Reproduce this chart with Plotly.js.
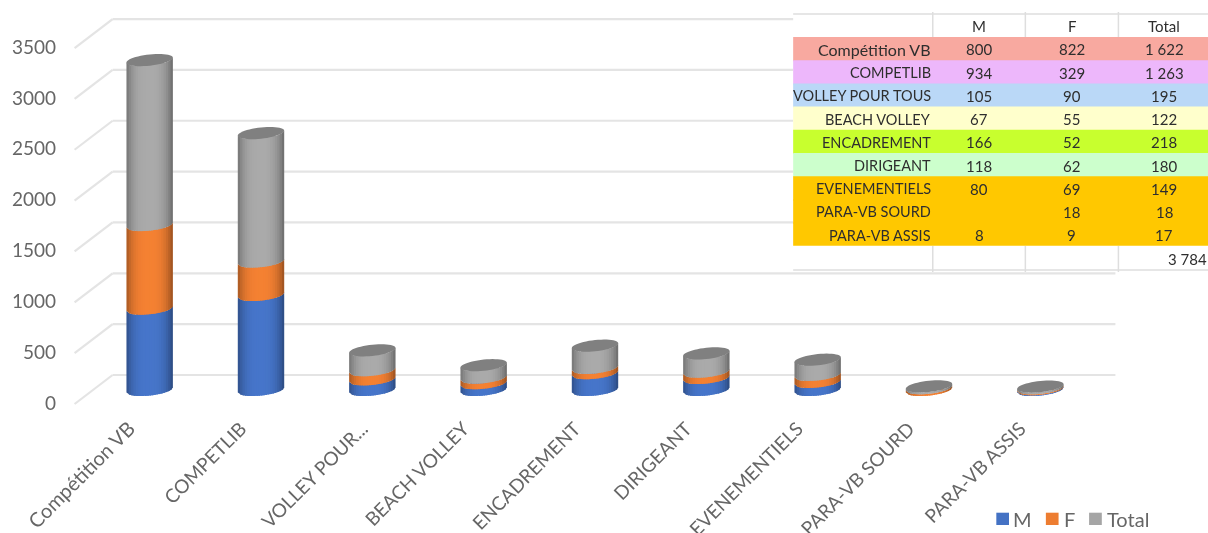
<!DOCTYPE html>
<html><head><meta charset="utf-8">
<script src="https://cdn.plot.ly/plotly-3.0.1.min.js"></script>
<style>html,body{margin:0;padding:0;background:#fff;overflow:hidden}#c{width:1208px;height:533px;filter:blur(0.55px)}</style>
</head><body><div id="c"></div>
<script>
// ---- data ----
const categories = ["Compétition VB","COMPETLIB","VOLLEY POUR TOUS","BEACH VOLLEY","ENCADREMENT","DIRIGEANT","EVENEMENTIELS","PARA-VB SOURD","PARA-VB ASSIS"];
const axisLabels = ["Compétition VB","COMPETLIB","VOLLEY POUR...","BEACH VOLLEY","ENCADREMENT","DIRIGEANT","EVENEMENTIELS","PARA-VB SOURD","PARA-VB ASSIS"];
const valuesM = [800,934,105,67,166,118,80,null,8];
const valuesF = [822,329,90,55,52,62,69,18,9];
const valuesTotal = [1622,1263,195,122,218,180,149,18,17];
const yTicks = [0,500,1000,1500,2000,2500,3000,3500];
const seriesNames = ["M","F","Total"];
const seriesColors = ["#4472c4","#ed7d31","#a5a5a5"];
const rowColors = ["#f8a9a0","#edb7fb","#bad8f7","#ffffcc","#c8ff2e","#ccffcc","#ffc800","#ffc800","#ffc800"];

// ---- geometry ----
const L=94.4,R=1095.6,T=10,B=405, W=R-L,H=B-T;
const K=0.1017;              // pixels per unit
const STEP=111.25;           // pixels per category
const yRange=[-15/K,(390-T)/K];
const xp=x=>(x-L)/W, yp=y=>(B-y)/H;
const A=23.2,BB=5.6,S=2.4/23.2; // cylinder half-width, ellipse half-height, tilt
const sFont="Lato, 'Open Sans', sans-serif";

function shade(hex,m){
  const n=parseInt(hex.slice(1),16);
  const c=[n>>16,(n>>8)&255,n&255].map(v=>Math.max(0,Math.min(255,Math.round(v*m))));
  return `rgb(${c[0]},${c[1]},${c[2]})`;
}
const low=dx=>(-S*dx+BB*Math.sqrt(Math.max(0,1-(dx/A)*(dx/A))))/K;
const up=dx=>(-S*dx-BB*Math.sqrt(Math.max(0,1-(dx/A)*(dx/A))))/K;
const shapes=[];

// back wall + side wall
yTicks.forEach(v=>{
  const wall=v+15/K, front=v-14/K;
  const line={color:"#e4e4e4",width:2.2};
  shapes.push({type:"line",layer:"below",xref:"paper",yref:"y",x0:xp(113),x1:xp(1115),y0:wall,y1:wall,line});
  shapes.push({type:"line",layer:"below",xref:"paper",yref:"y",x0:xp(75),x1:xp(113),y0:front,y1:wall,line});
});

// cylinders
const N=20;
categories.forEach((c,i)=>{
  let base=0;
  [valuesM,valuesF,valuesTotal].forEach((arr,s)=>{
    const v=arr[i]; if(!v) return;
    const top=base+v;
    for(let j=0;j<N;j++){
      const d0=-A+2*A*j/N, d1=-A+2*A*(j+1)/N;
      const mid=(d0+d1)/2/A, tt=Math.abs(mid+0.03);
      const col=shade(seriesColors[s],1.03-0.36*tt*tt*tt);
      const e=Math.min(A,d1+1.5);
      const x0=i+d0/STEP, x1=i+e/STEP;
      const path=`M${x0.toFixed(4)},${(base-low(d0)).toFixed(2)}L${x1.toFixed(4)},${(base-low(e)).toFixed(2)}L${x1.toFixed(4)},${(top-low(e)).toFixed(2)}L${x0.toFixed(4)},${(top-low(d0)).toFixed(2)}Z`;
      shapes.push({type:"path",layer:"above",xref:"x",yref:"y",path,fillcolor:col,line:{width:0}});
    }
    base=top;
  });
  // top cap
  let p="";
  for(let k=0;k<=24;k++){const d=-A*Math.cos(Math.PI*k/24);p+=(k?"L":"M")+(i+d/STEP).toFixed(4)+","+(base-up(d)).toFixed(2);}
  for(let k=23;k>0;k--){const d=-A*Math.cos(Math.PI*k/24);p+="L"+(i+d/STEP).toFixed(4)+","+(base-low(d)).toFixed(2);}
  shapes.push({type:"path",layer:"above",xref:"x",yref:"y",path:p+"Z",fillcolor:"#808080",line:{width:0}});
});

// ---- table ----
const rowH=23.2, rowTop=37;
const annotations=[];
const tcol="#2e2e2e";
const grid={color:"#dedede",width:1.5};
const rect=(x0,y0,x1,y1,color)=>shapes.push({type:"rect",layer:"above",xref:"paper",yref:"paper",x0:xp(x0),x1:xp(x1),y0:yp(y0),y1:yp(y1),fillcolor:color,line:{width:0}});
const hl=(x0,y0,x1,y1)=>shapes.push({type:"line",layer:"above",xref:"paper",yref:"paper",x0:xp(x0),x1:xp(x1),y0:yp(y0),y1:yp(y1),line:grid});
rect(793,14,1208,270,"#ffffff");
categories.forEach((c,r)=>rect(793,rowTop+r*rowH,1208,rowTop+(r+1)*rowH+(r<8?1:0),rowColors[r]));
hl(793,14,1208,14); hl(793,270,1118,270); hl(1118,270,1208,270);
[932.5,1025,1118].forEach(x=>{hl(x,12,x,37);hl(x,246,x,272);});
const txt=(text,x,y,anchor,size,color)=>annotations.push({text,x:xp(x),y:yp(y),xref:"paper",yref:"paper",xanchor:anchor,yanchor:"middle",showarrow:false,font:{family:sFont,size,color},borderpad:0,borderwidth:0});
const fmt=n=>n==null?"":String(n).replace(/\B(?=(\d{3})+$)/g," ");
const colX=[979,1071.5,1164];
seriesNames.forEach((n,k)=>txt(n,colX[k],26,"center",15,tcol));
categories.forEach((c,r)=>{
  const y=49.5+r*23.2;
  txt(c,930.5,y,"right",r===0?16:14.5,tcol);
  [valuesM,valuesF,valuesTotal].forEach((a,k)=>{ if(a[r]!=null) txt(fmt(a[r]),colX[k],y,"center",15,tcol); });
});
txt(fmt(valuesTotal.reduce((a,b)=>a+b,0)),1207,258.5,"right",15,tcol);

// ---- legend ----
const lgSw=[996,1045.5,1088.7], lgTx=[1013,1063.5,1106.5];
seriesNames.forEach((n,k)=>{
  rect(lgSw[k],512.7,lgSw[k]+12.7,525,seriesColors[k]);
  txt(n,lgTx[k],518.5,"left",20,"#666666");
});

const bars=[valuesM,valuesF,valuesTotal].map((vals,s)=>({
  type:"bar",name:seriesNames[s],x:categories.map((c,i)=>i),y:vals,width:0.25,textposition:"none",
  marker:{color:seriesColors[s],line:{width:0}},customdata:categories,hovertemplate:"%{customdata}<br>"+seriesNames[s]+": %{y}<extra></extra>"
}));

const tickPos=categories.map((c,i)=>i===2?i+0.09:i);
const tickText=axisLabels.map((t,i)=>i===0?'<span style="font-size:20px">'+t+'</span>':t);

Plotly.newPlot("c",bars,{
  width:1208,height:533,barmode:"stack",showlegend:false,
  margin:{l:L,r:1208-R,t:T,b:533-B,pad:0},
  paper_bgcolor:"#fff",plot_bgcolor:"rgba(0,0,0,0)",
  xaxis:{type:"linear",range:[-0.5,8.5],tickmode:"array",tickvals:tickPos,ticktext:tickText,tickangle:-45,
    showgrid:false,zeroline:false,showline:false,ticks:"",ticklabelstandoff:8,ticklabelshift:-20,
    tickfont:{family:sFont,size:19,color:"#666666"},automargin:false,fixedrange:true},
  yaxis:{type:"linear",range:yRange,tickmode:"array",tickvals:yTicks,showgrid:false,zeroline:false,showline:false,ticks:"",
    ticklabelstandoff:37,ticklabelshift:13,tickfont:{family:sFont,size:19,color:"#666666"},automargin:false,fixedrange:true},
  shapes,annotations
},{displayModeBar:false,responsive:false});
</script></body></html>
